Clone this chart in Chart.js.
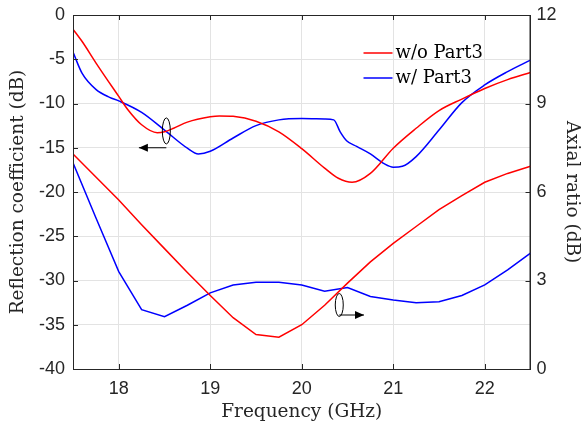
<!DOCTYPE html>
<html>
<head>
<meta charset="utf-8">
<script src="https://cdn.jsdelivr.net/npm/chart.js@4.4.0/dist/chart.umd.min.js"></script>
<style>
html, body { margin: 0; padding: 0; background: #fff; }
</style>
</head>
<body>
<canvas id="myChart" width="585" height="426"></canvas>
<script>
// reflection coefficient (dB), left axis
var freqRcRed = [17.5, 17.6, 17.75, 18, 18.1, 18.25, 18.42, 18.5, 18.6, 18.75, 19, 19.1, 19.25, 19.5, 19.75, 20, 20.25, 20.4, 20.55, 20.75, 21, 21.25, 21.5, 21.75, 22, 22.25, 22.5];
var rcRed = [-1.6, -3.0, -5.4, -9.2, -10.7, -12.4, -13.3, -13.2, -12.8, -12.1, -11.5, -11.4, -11.45, -12.0, -13.2, -15.1, -17.3, -18.45, -18.9, -17.9, -15.05, -12.8, -10.8, -9.5, -8.3, -7.3, -6.5];

var freqRcBlue = [17.5, 17.6, 17.75, 17.9, 18, 18.25, 18.5, 18.75, 18.87, 19, 19.25, 19.5, 19.75, 20, 20.25, 20.35, 20.42, 20.49, 20.6, 20.75, 20.9, 21, 21.1, 21.25, 21.5, 21.75, 22, 22.25, 22.5];
var rcBlue = [-4.2, -6.6, -8.4, -9.3, -9.7, -11.0, -13.0, -15.05, -15.7, -15.4, -13.9, -12.5, -11.85, -11.7, -11.75, -11.85, -13.2, -14.2, -14.85, -15.7, -16.8, -17.2, -17.1, -16.0, -13.0, -9.9, -7.9, -6.4, -5.1];

// axial ratio (dB), right axis
var freqAr = [17.5, 17.75, 18, 18.25, 18.5, 18.75, 19, 19.25, 19.5, 19.75, 20, 20.25, 20.5, 20.75, 21, 21.25, 21.5, 21.75, 22, 22.25, 22.5];
var arRed = [7.29, 6.51, 5.73, 4.89, 4.08, 3.27, 2.49, 1.74, 1.17, 1.08, 1.5, 2.16, 2.91, 3.63, 4.26, 4.83, 5.4, 5.88, 6.33, 6.63, 6.87];
var arBlue = [6.99, 5.13, 3.3, 2.01, 1.77, 2.16, 2.58, 2.85, 2.94, 2.94, 2.85, 2.64, 2.76, 2.46, 2.34, 2.25, 2.28, 2.49, 2.85, 3.36, 3.93];

var xTicks = [18, 19, 20, 21, 22];
var seriesNames = ['w/o Part3', 'w/ Part3'];

function pts(xs, ys) {
	var out = [];
	for (var i in xs) {
		out.push({x: xs[i], y: ys[i]});
	}
	return out;
}

// pin the axis boxes so the plot area lands where the original one is
function fixSize(w, h) {
	return function(axis) {
		if (w) axis.width = w;
		if (h) axis.height = h;
		axis.paddingTop = 0; axis.paddingBottom = 0;
		axis.paddingLeft = 0; axis.paddingRight = 0;
	};
}

var serif = "'DejaVu Serif', serif";
var sans = "'Liberation Sans', Arial, sans-serif";
var axisColor = '#262626';

// frame, inner ticks, legend, and the two ellipse+arrow marks
var extras = {
	id: 'extras',
	afterDraw: function(chart) {
		var c = chart.ctx, a = chart.chartArea;
		var sx = chart.scales.x, sl = chart.scales.yL, sr = chart.scales.yR;
		c.save();
		c.strokeStyle = axisColor;
		c.lineWidth = 1;
		c.strokeRect(a.left + 0.5, a.top + 0.5, a.right - a.left - 1, a.bottom - a.top);

		c.beginPath();
		sx.ticks.forEach(function(t) {
			var px = Math.round(sx.getPixelForValue(t.value)) + 0.5;
			c.moveTo(px, a.bottom); c.lineTo(px, a.bottom - 5);
			c.moveTo(px, a.top); c.lineTo(px, a.top + 5);
		});
		sl.ticks.forEach(function(t) {
			var py = Math.round(sl.getPixelForValue(t.value)) + 0.5;
			c.moveTo(a.left, py); c.lineTo(a.left + 5, py);
		});
		sr.ticks.forEach(function(t) {
			var py = Math.round(sr.getPixelForValue(t.value)) + 0.5;
			c.moveTo(a.right, py); c.lineTo(a.right - 5, py);
		});
		c.stroke();

		// legend
		var cols = ['#ff0000', '#0000ff'];
		c.font = '18px ' + serif;
		c.textBaseline = 'middle';
		c.fillStyle = '#000';
		for (var i = 0; i < 2; i++) {
			var y = a.top + 38 + i * 25;
			c.strokeStyle = cols[i];
			c.lineWidth = 1.5;
			c.beginPath();
			c.moveTo(a.right - 167, y);
			c.lineTo(a.right - 138, y);
			c.stroke();
			c.fillText(seriesNames[i], a.right - 135, y);
		}

		// marks
		c.strokeStyle = '#000';
		c.fillStyle = '#000';
		c.lineWidth = 1;
		function mark(ex, ey, ry, ay, tip) {
			c.beginPath();
			c.ellipse(ex, ey, 4, ry, 0, 0, Math.PI * 2);
			c.stroke();
			c.beginPath();
			c.moveTo(ex, ay);
			c.lineTo(tip, ay);
			c.stroke();
			var d = tip < ex ? 1 : -1;
			c.beginPath();
			c.moveTo(tip, ay);
			c.lineTo(tip + d * 9, ay - 4);
			c.lineTo(tip + d * 9, ay + 4);
			c.closePath();
			c.fill();
		}
		mark(sx.getPixelForValue(18.52), sl.getPixelForValue(-13.1), 13,
			sl.getPixelForValue(-15), sx.getPixelForValue(18.22));
		mark(sx.getPixelForValue(20.41), sr.getPixelForValue(2.17), 11.5,
			sr.getPixelForValue(1.83), sx.getPixelForValue(20.68));
		c.restore();
	}
};

var ctx = document.getElementById('myChart');
var chart = new Chart(ctx, {
	type: 'line',
	data: {
		datasets: [
			{label: seriesNames[0], data: pts(freqRcRed, rcRed), borderColor: '#ff0000', yAxisID: 'yL', cubicInterpolationMode: 'monotone'},
			{label: seriesNames[1], data: pts(freqRcBlue, rcBlue), borderColor: '#0000ff', yAxisID: 'yL', cubicInterpolationMode: 'monotone'},
			{label: 'AR ' + seriesNames[0], data: pts(freqAr, arRed), borderColor: '#ff0000', yAxisID: 'yR', tension: 0},
			{label: 'AR ' + seriesNames[1], data: pts(freqAr, arBlue), borderColor: '#0000ff', yAxisID: 'yR', tension: 0}
		]
	},
	options: {
		responsive: false,
		animation: false,
		devicePixelRatio: 1,
		layout: {padding: {left: 0, right: 0, top: 15, bottom: 3}},
		elements: {
			line: {borderWidth: 1.5, fill: false},
			point: {radius: 0}
		},
		plugins: {legend: {display: false}, tooltip: {enabled: false}},
		scales: {
			x: {
				type: 'linear', min: 17.5, max: 22.5,
				afterBuildTicks: function(axis) {
					axis.ticks = xTicks.map(function(v) { return {value: v}; });
				},
				afterFit: fixSize(0, 54),
				grid: {color: '#e3e3e3', drawTicks: false},
				border: {color: axisColor},
				ticks: {font: {family: sans, size: 18}, color: axisColor, padding: 9, maxRotation: 0},
				title: {display: true, text: 'Frequency (GHz)', font: {family: serif, size: 18.5}, color: axisColor, padding: {top: 0, bottom: 0}}
			},
			yL: {
				position: 'left', min: -40, max: 0,
				afterFit: fixSize(73, 0),
				grid: {color: '#e3e3e3', drawTicks: false},
				border: {color: axisColor},
				ticks: {stepSize: 5, font: {family: sans, size: 18}, color: axisColor, padding: 8},
				title: {display: true, text: 'Reflection coefficient (dB)', font: {family: serif, size: 18.5}, color: axisColor, padding: {top: 7, bottom: 0}}
			},
			yR: {
				position: 'right', min: 0, max: 12,
				afterFit: fixSize(54.5, 0),
				grid: {display: false, drawTicks: false},
				border: {color: axisColor},
				ticks: {stepSize: 3, font: {family: sans, size: 18}, color: axisColor, padding: 6},
				title: {display: true, text: 'Axial ratio (dB)', font: {family: serif, size: 18.5}, color: axisColor, padding: {top: 2, bottom: 0}}
			}
		}
	},
	plugins: [extras]
});
</script>
</body>
</html>
